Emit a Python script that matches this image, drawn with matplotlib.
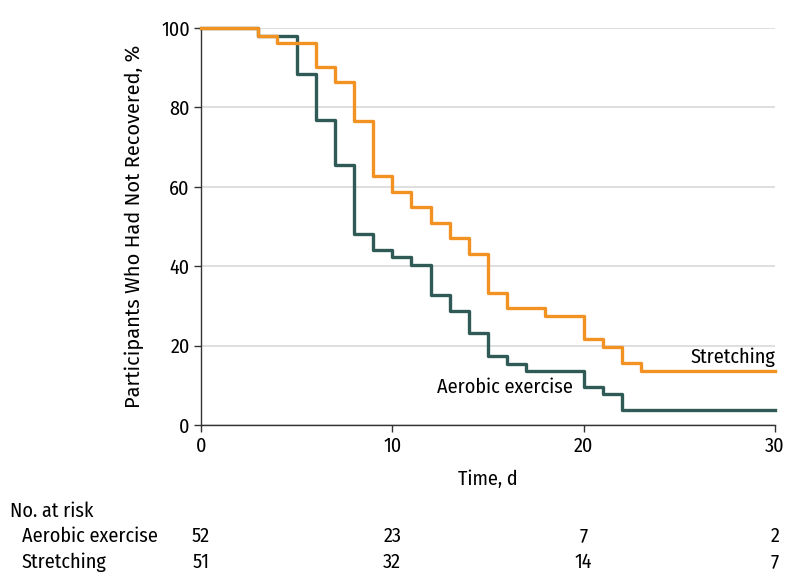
import matplotlib
matplotlib.use("Agg")
import matplotlib.pyplot as plt

# Kaplan-Meier style curves (time in days, % not recovered)
stretch_t = [0, 3, 4, 6, 7, 8, 9, 10, 11, 12, 13, 14, 15, 16, 18, 20, 21, 22, 23, 30]
stretch_s = [100, 98.0, 96.1, 90.2, 86.3, 76.5, 62.7, 58.8, 54.9, 51.0, 47.1, 43.1,
             33.3, 29.4, 27.5, 21.6, 19.6, 15.7, 13.7, 13.7]
aerobic_t = [0, 3, 5, 6, 7, 8, 9, 10, 11, 12, 13, 14, 15, 16, 17, 20, 21, 22, 30]
aerobic_s = [100, 98.1, 88.5, 76.9, 65.4, 48.1, 44.2, 42.3, 40.4, 32.7, 28.8, 23.1,
             17.3, 15.4, 13.5, 9.6, 7.7, 3.8, 3.8]

risk_times = [0, 10, 20, 30]
risk_aerobic = [52, 23, 7, 2]
risk_stretch = [51, 32, 14, 7]

orange = "#F29222"
green = "#2F5A55"
cond = ["Fira Sans Condensed", "DejaVu Sans"]
fs = 14.5

fig = plt.figure(figsize=(7.94, 5.88), dpi=100)
ax = fig.add_axes([0.2531, 0.2772, 0.7229, 0.6752])

ax.step(stretch_t, stretch_s, where="post", color=orange, lw=2.4, clip_on=False, zorder=3)
ax.step(aerobic_t, aerobic_s, where="post", color=green, lw=2.4, clip_on=False, zorder=2)

ax.set_xlim(0, 30)
ax.set_ylim(0, 100)
ax.set_xticks([0, 10, 20, 30])
ax.set_yticks([0, 20, 40, 60, 80, 100])
ax.grid(axis="y", color="#d9d9d9", lw=1.2)
ax.set_axisbelow(True)
for s in ["top", "right"]:
    ax.spines[s].set_visible(False)
for s in ["left", "bottom"]:
    ax.spines[s].set_color("#333333")
    ax.spines[s].set_linewidth(1.0)
ax.tick_params(length=5, width=1, color="#333333", labelsize=fs, pad=3)
for lab in ax.get_xticklabels() + ax.get_yticklabels():
    lab.set_family(cond)

ax.set_xlabel("Time, d", family=cond, fontsize=fs, labelpad=10)
ax.set_ylabel("Participants Who Had Not Recovered, %", family=["Fira Sans", "DejaVu Sans"],
              fontsize=14.5, labelpad=12)

ax.text(30, 15.7, "Stretching", ha="right", va="baseline", family=cond, fontsize=fs)
ax.text(19.45, 8.1, "Aerobic exercise", ha="right", va="baseline", family=cond, fontsize=fs)

# number at risk table
fig.text(0.012, 1 - 511 / 588, "No. at risk", ha="left", va="center", family=cond, fontsize=fs)
fig.text(0.0277, 1 - 536 / 588, "Aerobic exercise", ha="left", va="center", family=cond, fontsize=fs)
fig.text(0.0277, 1 - 562 / 588, "Stretching", ha="left", va="center", family=cond, fontsize=fs)
tr = ax.get_xaxis_transform()
for t, a, s in zip(risk_times, risk_aerobic, risk_stretch):
    ax.text(t, (425 - 536) / 397, str(a), transform=tr, ha="center", va="center",
            family=cond, fontsize=fs)
    ax.text(t, (425 - 562) / 397, str(s), transform=tr, ha="center", va="center",
            family=cond, fontsize=fs)

fig.savefig("out.png", dpi=100)
